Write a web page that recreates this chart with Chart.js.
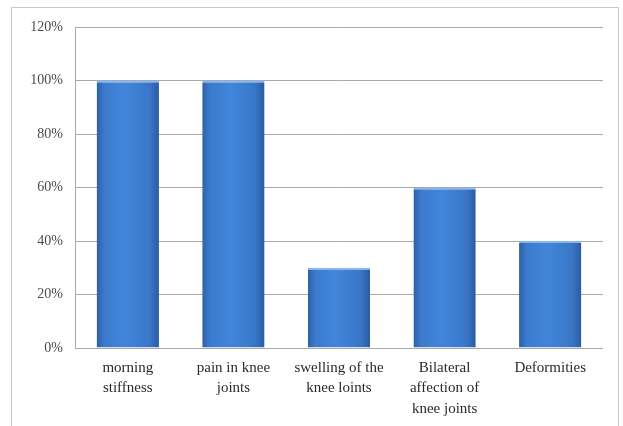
<!DOCTYPE html>
<html>
<head>
<meta charset="utf-8">
<script src="https://cdn.jsdelivr.net/npm/chart.js@4/dist/chart.umd.min.js"></script>
<style>
  html, body { margin: 0; padding: 0; background: #fff; }
  #wrap { position: relative; width: 623px; height: 426px; overflow: hidden; }
  #frame {
    position: absolute; left: 11px; top: 7px; width: 608px; height: 440px;
    border: 1px solid #c8c8c8; box-sizing: border-box;
  }
  canvas { position: absolute; left: 0; top: 0; }
</style>
</head>
<body>
<div id="wrap">
  <div id="frame"></div>
  <canvas id="symptomChart" width="623" height="426"></canvas>
</div>
<script>
const categories = [
  ['morning', 'stiffness'],
  ['pain in knee', 'joints'],
  ['swelling of the', 'knee loints'],
  ['Bilateral', 'affection of', 'knee joints'],
  ['Deformities']
]
const percentages = [100, 100, 30, 60, 40]
const yTicks = [0, 20, 40, 60, 80, 100, 120]

const BAR_RATIO = 0.59

// shaded blue fill, darker at the bar edges
const barFill = (context) => {
  const chart = context.chart
  const xScale = chart.scales.x
  if (!chart.chartArea || !xScale || context.dataIndex === undefined) return '#3a78c9'
  const cx = xScale.getPixelForValue(context.dataIndex)
  const half = xScale.width / categories.length * BAR_RATIO / 2
  const g = chart.ctx.createLinearGradient(cx - half, 0, cx + half, 0)
  g.addColorStop(0, '#2d60a8')
  g.addColorStop(0.12, '#3b7acd')
  g.addColorStop(0.45, '#4286da')
  g.addColorStop(0.85, '#3976c8')
  g.addColorStop(1, '#2b5ba0')
  return g
}

const makeChart = () => {
  const ctx = document.getElementById('symptomChart').getContext('2d')
  return new Chart(ctx, {
    type: 'bar',
    data: {
      labels: categories,
      datasets: [{
        data: percentages,
        backgroundColor: barFill,
        borderColor: '#86b6ef',
        borderWidth: { top: 2, left: 0, right: 0, bottom: 0 },
        borderSkipped: false,
        categoryPercentage: 1,
        barPercentage: BAR_RATIO
      }]
    },
    options: {
      responsive: false,
      animation: false,
      layout: { padding: { left: 11, top: 27, right: 20, bottom: 0 } },
      plugins: {
        legend: { display: false },
        tooltip: { enabled: false }
      },
      scales: {
        x: {
          grid: { display: false, drawTicks: false },
          border: { display: false },
          ticks: {
            padding: 10,
            maxRotation: 0,
            autoSkip: false,
            color: '#2a2a2a',
            font: { family: 'Liberation Serif', size: 15, lineHeight: 1.35 }
          },
          afterFit: (scale) => { scale.height = 78 }
        },
        y: {
          min: 0,
          max: 120,
          afterBuildTicks: (scale) => { scale.ticks = yTicks.map(v => ({ value: v })) },
          grid: { color: '#a9a9a9', lineWidth: 1, drawTicks: false },
          border: { display: true, color: '#a9a9a9' },
          ticks: {
            padding: 12,
            color: '#4a4a4a',
            font: { family: 'Liberation Serif', size: 14 },
            callback: (v) => v + '%'
          },
          afterFit: (scale) => { scale.width = 64 }
        }
      }
    }
  })
}

makeChart()
</script>
</body>
</html>
